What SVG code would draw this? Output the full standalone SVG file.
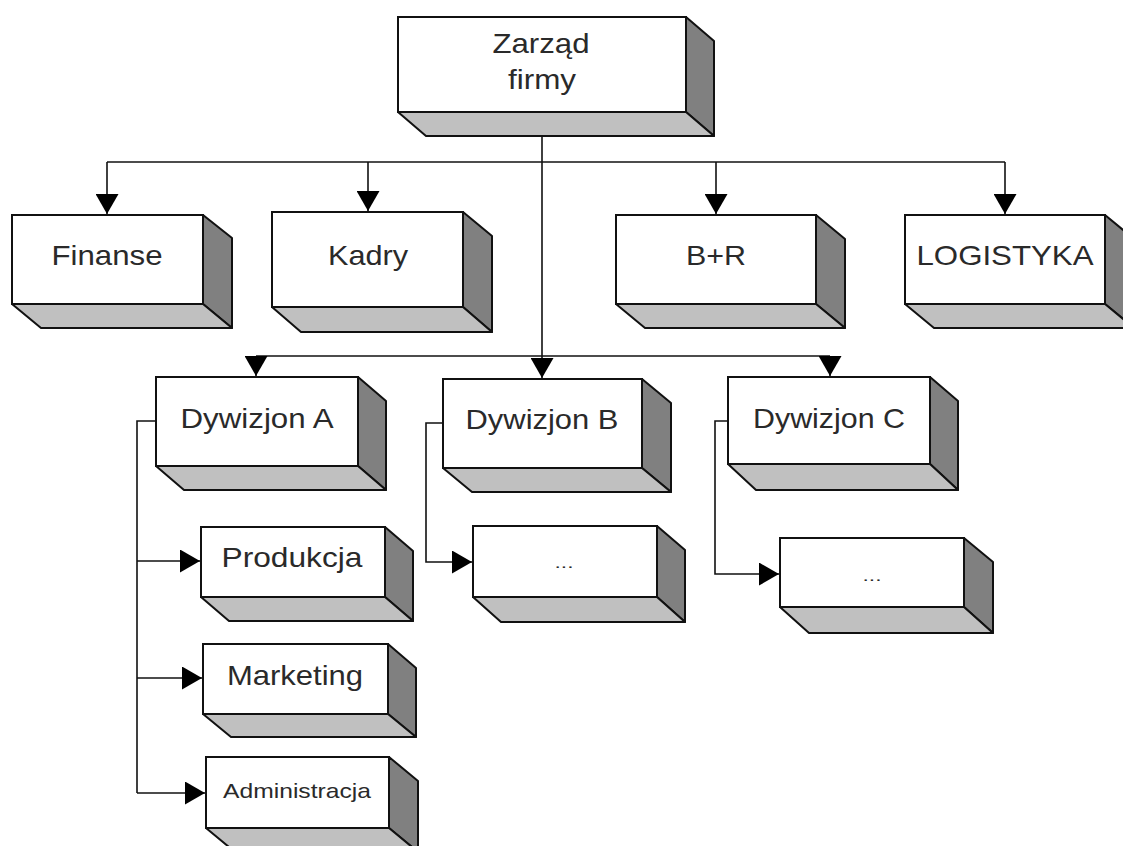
<svg xmlns="http://www.w3.org/2000/svg" width="1123" height="846" viewBox="0 0 1123 846">
  <style>
    .front { fill: #ffffff; stroke: #111; stroke-width: 2; }
    .side { fill: #808080; stroke: #111; stroke-width: 2; stroke-linejoin: round; }
    .bottom { fill: #c0c0c0; stroke: #111; stroke-width: 2; stroke-linejoin: round; }
    .lbl { font-family: "Liberation Sans", Arial, sans-serif; font-size: 28px; fill: #2a2a2a; text-anchor: middle; }
    .small { font-size: 21px; }
    .dots { font-size: 14px; }
    .wire { fill: none; stroke: #111; stroke-width: 1.6; }
  </style>
  <defs>
    <marker id="ah" markerUnits="userSpaceOnUse" markerWidth="22" markerHeight="23" refX="20" refY="11.5" orient="auto">
      <path d="M0,0 L20,11.5 L0,23 Z" fill="#000"/>
    </marker>
  </defs>
  <rect width="1123" height="846" fill="#ffffff"/>

  <!-- connectors -->
  <g id="connectors" class="wire">
    <!-- board to staff departments -->
    <path d="M107,162 H1005"/>
    <path d="M107,162 V214" marker-end="url(#ah)"/>
    <path d="M368,162 V211" marker-end="url(#ah)"/>
    <path d="M716,162 V214" marker-end="url(#ah)"/>
    <path d="M1005,162 V214" marker-end="url(#ah)"/>
    <!-- board to divisions -->
    <path d="M542,112 V378" marker-end="url(#ah)"/>
    <path d="M256,356 H830"/>
    <path d="M256,356 V376" marker-end="url(#ah)"/>
    <path d="M830,356 V376" marker-end="url(#ah)"/>
    <!-- division A units -->
    <path d="M156,421 H137 V793"/>
    <path d="M137,561 H200" marker-end="url(#ah)"/>
    <path d="M137,678 H202" marker-end="url(#ah)"/>
    <path d="M137,793 H205" marker-end="url(#ah)"/>
    <!-- division B unit -->
    <path d="M443,423 H426 V562 H472" marker-end="url(#ah)"/>
    <!-- division C unit -->
    <path d="M728,421 H715 V574 H779" marker-end="url(#ah)"/>
  </g>

  <g id="zarzad">
    <polygon class="side" points="686,17 714,41 714,136 686,112"/>
    <polygon class="bottom" points="398,112 686,112 714,136 426,136"/>
    <rect class="front" x="398" y="17" width="288" height="95"/>
    <text class="lbl" x="541" y="53" textLength="97" lengthAdjust="spacingAndGlyphs">Zarząd</text>
    <text class="lbl" x="542" y="89" textLength="68" lengthAdjust="spacingAndGlyphs">firmy</text>
  </g>

  <g id="finanse">
    <polygon class="side" points="203,215 232,238 232,328 203,304"/>
    <polygon class="bottom" points="12,304 203,304 232,328 41,328"/>
    <rect class="front" x="12" y="215" width="191" height="89"/>
    <text class="lbl" x="107" y="265" textLength="111" lengthAdjust="spacingAndGlyphs">Finanse</text>
  </g>

  <g id="kadry">
    <polygon class="side" points="463,212 492,236 492,332 463,307"/>
    <polygon class="bottom" points="272,307 463,307 492,332 301,332"/>
    <rect class="front" x="272" y="212" width="191" height="95"/>
    <text class="lbl" x="368" y="265" textLength="80" lengthAdjust="spacingAndGlyphs">Kadry</text>
  </g>

  <g id="br">
    <polygon class="side" points="816,215 845,239 845,328 816,304"/>
    <polygon class="bottom" points="616,304 816,304 845,328 645,328"/>
    <rect class="front" x="616" y="215" width="200" height="89"/>
    <text class="lbl" x="716" y="265" textLength="60" lengthAdjust="spacingAndGlyphs">B+R</text>
  </g>

  <g id="logistyka">
    <polygon class="side" points="1105,215 1134,239 1134,328 1105,304"/>
    <polygon class="bottom" points="905,304 1105,304 1134,328 934,328"/>
    <rect class="front" x="905" y="215" width="200" height="89"/>
    <text class="lbl" x="1005" y="265" textLength="177" lengthAdjust="spacingAndGlyphs">LOGISTYKA</text>
  </g>

  <g id="dywizjon-a">
    <polygon class="side" points="358,377 386,401 386,490 358,466"/>
    <polygon class="bottom" points="156,466 358,466 386,490 184,490"/>
    <rect class="front" x="156" y="377" width="202" height="89"/>
    <text class="lbl" x="257" y="428" textLength="153" lengthAdjust="spacingAndGlyphs">Dywizjon A</text>
  </g>

  <g id="dywizjon-b">
    <polygon class="side" points="642,379 671,403 671,492 642,468"/>
    <polygon class="bottom" points="443,468 642,468 671,492 472,492"/>
    <rect class="front" x="443" y="379" width="199" height="89"/>
    <text class="lbl" x="542" y="429" textLength="153" lengthAdjust="spacingAndGlyphs">Dywizjon B</text>
  </g>

  <g id="dywizjon-c">
    <polygon class="side" points="930,377 958,401 958,490 930,464"/>
    <polygon class="bottom" points="728,464 930,464 958,490 756,490"/>
    <rect class="front" x="728" y="377" width="202" height="87"/>
    <text class="lbl" x="829" y="428" textLength="152" lengthAdjust="spacingAndGlyphs">Dywizjon C</text>
  </g>

  <g id="produkcja">
    <polygon class="side" points="385,527 413,551 413,621 385,597"/>
    <polygon class="bottom" points="201,597 385,597 413,621 229,621"/>
    <rect class="front" x="201" y="527" width="184" height="70"/>
    <text class="lbl" x="292" y="567" textLength="141" lengthAdjust="spacingAndGlyphs">Produkcja</text>
  </g>

  <g id="marketing">
    <polygon class="side" points="388,644 416,668 416,737 388,714"/>
    <polygon class="bottom" points="203,714 388,714 416,737 231,737"/>
    <rect class="front" x="203" y="644" width="185" height="70"/>
    <text class="lbl" x="295" y="685" textLength="136" lengthAdjust="spacingAndGlyphs">Marketing</text>
  </g>

  <g id="administracja">
    <polygon class="side" points="389,757 418,781 418,852 389,828"/>
    <polygon class="bottom" points="206,828 389,828 418,852 235,852"/>
    <rect class="front" x="206" y="757" width="183" height="71"/>
    <text class="lbl small" x="297" y="798" textLength="148" lengthAdjust="spacingAndGlyphs">Administracja</text>
  </g>

  <g id="jednostka-b">
    <polygon class="side" points="657,526 685,550 685,622 657,597"/>
    <polygon class="bottom" points="473,597 657,597 685,622 501,622"/>
    <rect class="front" x="473" y="526" width="184" height="71"/>
    <text class="lbl dots" x="564" y="568" textLength="19" lengthAdjust="spacingAndGlyphs">...</text>
  </g>

  <g id="jednostka-c">
    <polygon class="side" points="964,538 993,562 993,633 964,607"/>
    <polygon class="bottom" points="780,607 964,607 993,633 809,633"/>
    <rect class="front" x="780" y="538" width="184" height="69"/>
    <text class="lbl dots" x="872" y="581" textLength="19" lengthAdjust="spacingAndGlyphs">...</text>
  </g>
</svg>
